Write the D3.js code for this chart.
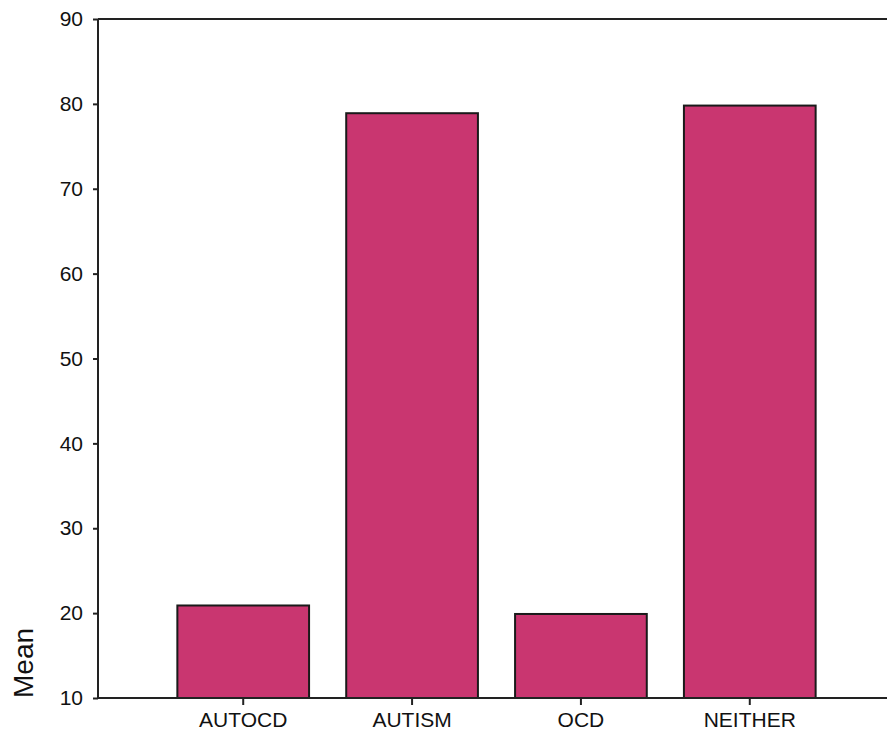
<!DOCTYPE html>
<html>
<head>
<meta charset="utf-8">
<script src="https://cdn.jsdelivr.net/npm/d3@7"></script>
<style>
html,body{margin:0;padding:0;background:#fff;}
svg{display:block;}
</style>
</head>
<body>
<svg id="chart" width="887" height="735"></svg>
<script>
const categories = ["AUTOCD", "AUTISM", "OCD", "NEITHER"];
const means = [20.9, 78.9, 19.9, 79.8];
const yTicks = [10, 20, 30, 40, 50, 60, 70, 80, 90];
const yLabel = "Mean";

(function () {
const svg = d3.select("#chart");
const mLeft = 98, mRight = 895, mTop = 19, mBottom = 698;
const axisColor = "#222";
const barColor = "#c93670";
const font = "Liberation Sans, Arial, sans-serif";

const x = d3.scaleBand().domain(categories).range([mLeft, mRight]).paddingInner(0.22).paddingOuter(0.47);
const y = d3.scaleLinear().domain([10, 90]).range([mBottom, mTop]);

// bars
svg.append("g").selectAll("rect").data(categories).join("rect")
  .attr("x", d => x(d))
  .attr("width", x.bandwidth())
  .attr("y", (d, i) => y(means[i]))
  .attr("height", (d, i) => y(10) - y(means[i]))
  .attr("fill", barColor)
  .attr("stroke", "#1a1a1a")
  .attr("stroke-width", 2);

// top frame line
svg.append("line").attr("x1", mLeft).attr("x2", mRight).attr("y1", mTop).attr("y2", mTop)
  .attr("stroke", axisColor).attr("stroke-width", 2);

// y axis
const ya = svg.append("g").attr("transform", `translate(${mLeft},0)`)
  .call(d3.axisLeft(y).tickValues(yTicks).tickSize(5).tickPadding(10).tickFormat(d3.format("d")));
ya.select(".domain").attr("stroke", axisColor).attr("stroke-width", 2).attr("d", `M0,${mBottom}V${mTop}`);
ya.selectAll(".tick line").attr("stroke", axisColor).attr("stroke-width", 2);
ya.selectAll(".tick text").attr("fill", "#111").style("font-family", font).style("font-size", "21px");

// x axis
const xa = svg.append("g").attr("transform", `translate(0,${mBottom})`)
  .call(d3.axisBottom(x).tickSize(7).tickPadding(7));
xa.select(".domain").attr("stroke", axisColor).attr("stroke-width", 2).attr("d", `M${mLeft},0H${mRight}`);
xa.selectAll(".tick line").attr("stroke", axisColor).attr("stroke-width", 2);
xa.selectAll(".tick text").attr("fill", "#111").style("font-family", font).style("font-size", "21px");

// y label
svg.append("text")
  .attr("transform", `translate(33,${mBottom}) rotate(-90)`)
  .attr("text-anchor", "start")
  .style("font-family", font)
  .style("font-size", "28px")
  .attr("fill", "#111")
  .text(yLabel);
})();
</script>
</body>
</html>
